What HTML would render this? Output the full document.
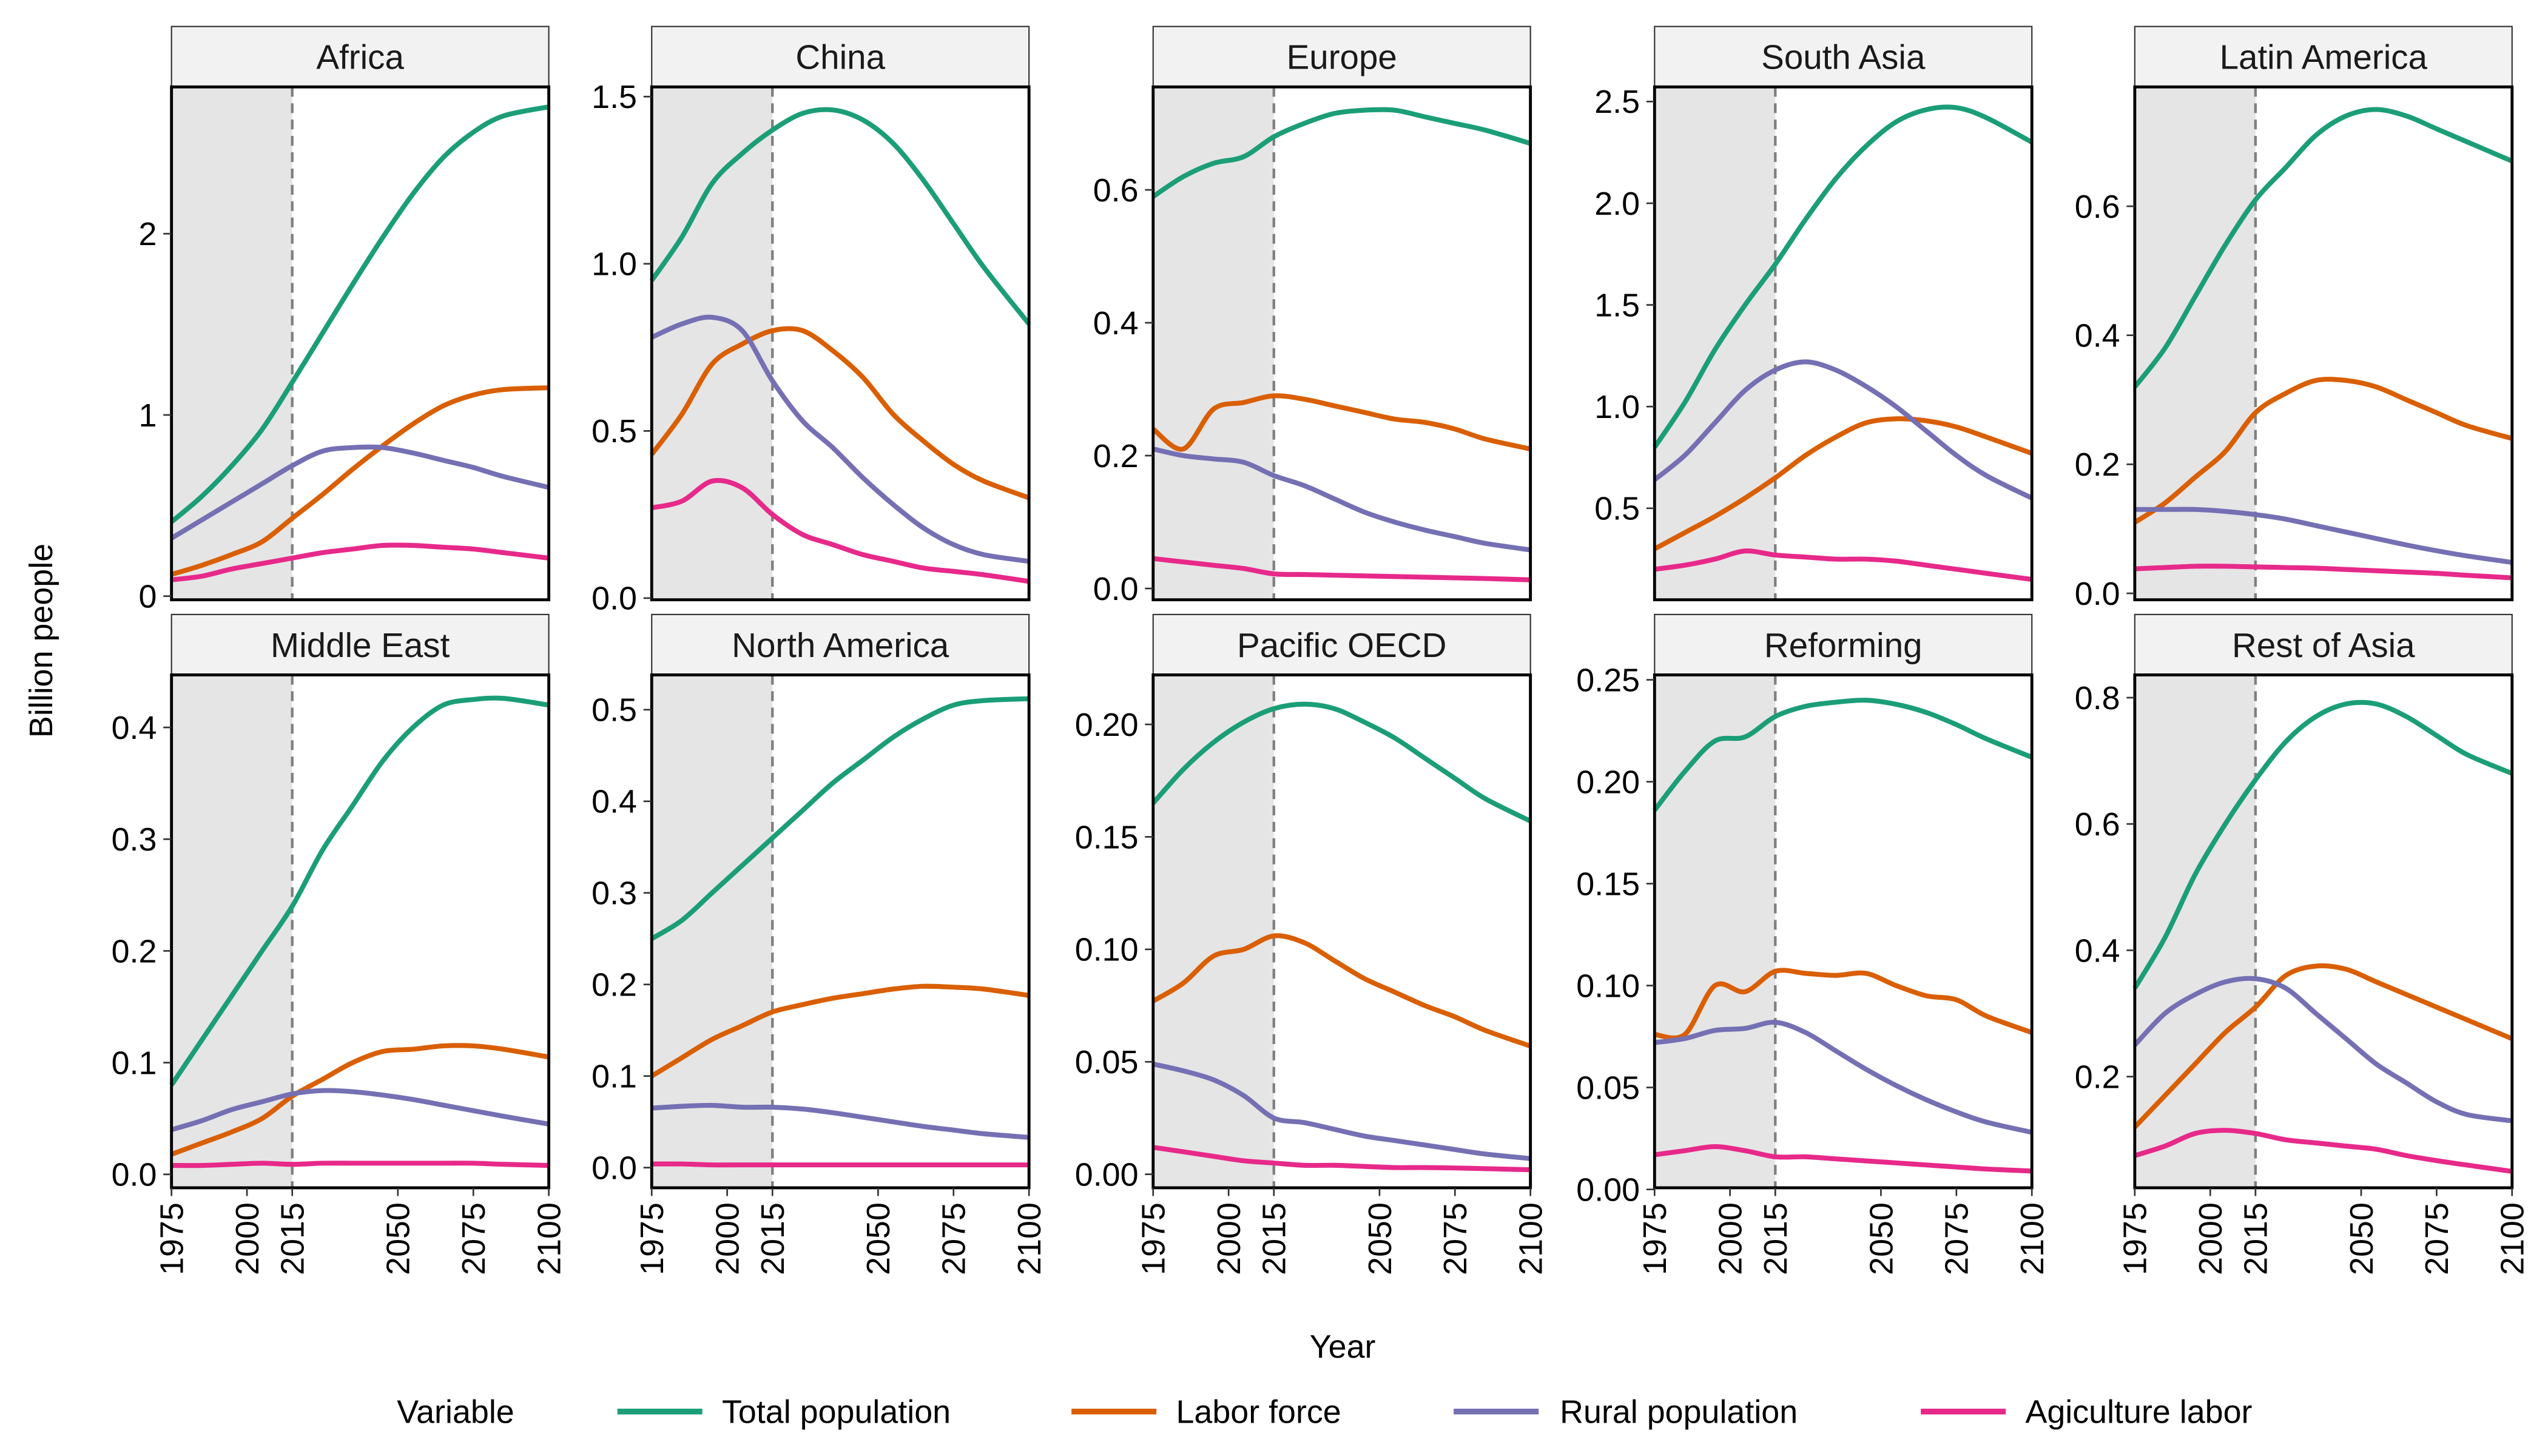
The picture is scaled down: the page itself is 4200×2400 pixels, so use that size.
<!DOCTYPE html>
<html><head><meta charset="utf-8"><style>
html,body{margin:0;padding:0;background:#fff;}
svg{display:block;font-family:"Liberation Sans",Arial,sans-serif;}
</style></head><body>
<svg id="chart" width="4200" height="2400" viewBox="0 0 1560 891" xmlns="http://www.w3.org/2000/svg">
<rect width="1560" height="891" fill="#fff"/>
<g id="panels"></g>
<text x="0" y="0" transform="translate(32,392) rotate(-90)" text-anchor="middle" font-size="20" fill="#000">Billion people</text>
<text x="822" y="831" text-anchor="middle" font-size="20" fill="#000">Year</text>
<g font-size="20" fill="#000">
<text x="243" y="871">Variable</text>
<g><line x1="378" y1="864" x2="430" y2="864" stroke="#1b9e77" stroke-width="3.5"/><text x="442" y="871">Total population</text></g>
<g><line x1="656" y1="864" x2="708" y2="864" stroke="#d95f02" stroke-width="3.5"/><text x="720" y="871">Labor force</text></g>
<g><line x1="890" y1="864" x2="942" y2="864" stroke="#7570b3" stroke-width="3.5"/><text x="955" y="871">Rural population</text></g>
<g><line x1="1176" y1="864" x2="1228" y2="864" stroke="#e7298a" stroke-width="3.5"/><text x="1240" y="871">Agiculture labor</text></g>
</g>
</svg>
<script>
const years = [1975,1985,1995,2005,2015,2025,2035,2045,2055,2065,2075,2085,2100];
const xTicks = [1975,2000,2015,2050,2075,2100];
const seriesNames = ["Total population","Labor force","Rural population","Agiculture labor"];
const seriesColors = ["#1b9e77","#d95f02","#7570b3","#e7298a"];
const regions = ["Africa","China","Europe","South Asia","Latin America","Middle East","North America","Pacific OECD","Reforming","Rest of Asia"];
const yDomains = [[-0.02,2.81],[-0.005,1.529],[-0.017,0.755],[0.05,2.572],[-0.01,0.785],[-0.012,0.447],[-0.022,0.538],[-0.006,0.222],[0.0008,0.2524],[0.024,0.836]];
const yTicks = [[0,1,2],[0,0.5,1,1.5],[0,0.2,0.4,0.6],[0.5,1,1.5,2,2.5],[0,0.2,0.4,0.6],[0,0.1,0.2,0.3,0.4],[0,0.1,0.2,0.3,0.4,0.5],[0,0.05,0.1,0.15,0.2],[0,0.05,0.1,0.15,0.2,0.25],[0.2,0.4,0.6,0.8]];
const yTickLabels = [["0","1","2"],["0.0","0.5","1.0","1.5"],["0.0","0.2","0.4","0.6"],["0.5","1.0","1.5","2.0","2.5"],["0.0","0.2","0.4","0.6"],["0.0","0.1","0.2","0.3","0.4"],["0.0","0.1","0.2","0.3","0.4","0.5"],["0.00","0.05","0.10","0.15","0.20"],["0.00","0.05","0.10","0.15","0.20","0.25"],["0.2","0.4","0.6","0.8"]];

const africaTotal=[0.41,0.55,0.72,0.92,1.18,1.45,1.72,1.98,2.22,2.42,2.56,2.65,2.70];
const africaLabor=[0.12,0.17,0.23,0.30,0.43,0.56,0.70,0.83,0.95,1.05,1.11,1.14,1.15];
const africaRural=[0.32,0.42,0.52,0.62,0.72,0.80,0.82,0.82,0.79,0.75,0.71,0.66,0.60];
const africaAg=[0.09,0.11,0.15,0.18,0.21,0.24,0.26,0.28,0.28,0.27,0.26,0.24,0.21];
const chinaTotal=[0.95,1.08,1.24,1.33,1.40,1.45,1.46,1.43,1.36,1.25,1.12,0.99,0.82];
const chinaLabor=[0.43,0.55,0.70,0.76,0.80,0.80,0.74,0.66,0.55,0.47,0.40,0.35,0.30];
const chinaRural=[0.78,0.82,0.84,0.80,0.65,0.53,0.45,0.36,0.28,0.21,0.16,0.13,0.11];
const chinaAg=[0.27,0.29,0.35,0.33,0.25,0.19,0.16,0.13,0.11,0.09,0.08,0.07,0.05];
const europeTotal=[0.59,0.62,0.64,0.65,0.68,0.70,0.715,0.72,0.72,0.71,0.70,0.69,0.67];
const europeLabor=[0.24,0.21,0.27,0.28,0.29,0.285,0.275,0.265,0.255,0.25,0.24,0.225,0.21];
const europeRural=[0.21,0.20,0.195,0.19,0.17,0.155,0.135,0.115,0.10,0.088,0.078,0.068,0.058];
const europeAg=[0.045,0.04,0.035,0.03,0.022,0.021,0.02,0.019,0.018,0.017,0.016,0.015,0.013];
const southAsiaTotal=[0.80,1.02,1.28,1.50,1.70,1.92,2.12,2.28,2.40,2.46,2.47,2.42,2.30];
const southAsiaLabor=[0.30,0.38,0.46,0.55,0.65,0.76,0.85,0.92,0.94,0.93,0.90,0.85,0.77];
const southAsiaRural=[0.64,0.76,0.92,1.08,1.18,1.22,1.18,1.10,1.00,0.88,0.76,0.66,0.55];
const southAsiaAg=[0.20,0.22,0.25,0.29,0.27,0.26,0.25,0.25,0.24,0.22,0.20,0.18,0.15];
const latamTotal=[0.32,0.38,0.46,0.54,0.61,0.66,0.71,0.74,0.75,0.74,0.72,0.70,0.67];
const latamLabor=[0.11,0.14,0.18,0.22,0.28,0.31,0.33,0.33,0.32,0.30,0.28,0.26,0.24];
const latamRural=[0.13,0.13,0.13,0.127,0.122,0.115,0.105,0.095,0.085,0.075,0.066,0.058,0.048];
const latamAg=[0.038,0.04,0.042,0.042,0.041,0.04,0.039,0.037,0.035,0.033,0.031,0.028,0.024];
const meTotal=[0.08,0.12,0.16,0.20,0.24,0.29,0.33,0.37,0.40,0.42,0.425,0.426,0.42];
const meLabor=[0.018,0.028,0.038,0.050,0.070,0.085,0.10,0.11,0.112,0.115,0.115,0.112,0.105];
const meRural=[0.04,0.048,0.058,0.065,0.072,0.075,0.074,0.071,0.067,0.062,0.057,0.052,0.045];
const meAg=[0.008,0.008,0.009,0.010,0.009,0.010,0.010,0.010,0.010,0.010,0.010,0.009,0.008];
const naTotal=[0.25,0.27,0.30,0.33,0.36,0.39,0.42,0.445,0.47,0.49,0.505,0.51,0.512];
const naLabor=[0.10,0.12,0.14,0.155,0.17,0.178,0.185,0.19,0.195,0.198,0.197,0.195,0.188];
const naRural=[0.065,0.067,0.068,0.066,0.066,0.064,0.06,0.055,0.05,0.045,0.041,0.037,0.033];
const naAg=[0.004,0.004,0.003,0.003,0.003,0.003,0.003,0.003,0.003,0.003,0.003,0.003,0.003];
const poTotal=[0.165,0.18,0.192,0.201,0.207,0.209,0.207,0.201,0.194,0.185,0.176,0.167,0.157];
const poLabor=[0.077,0.085,0.097,0.100,0.106,0.103,0.095,0.087,0.081,0.075,0.070,0.064,0.057];
const poRural=[0.049,0.046,0.042,0.035,0.025,0.023,0.020,0.017,0.015,0.013,0.011,0.009,0.007];
const poAg=[0.012,0.010,0.008,0.006,0.005,0.004,0.004,0.0035,0.003,0.003,0.0028,0.0025,0.002];
const refTotal=[0.186,0.205,0.22,0.222,0.232,0.237,0.239,0.24,0.238,0.234,0.228,0.221,0.212];
const refLabor=[0.076,0.076,0.10,0.097,0.107,0.106,0.105,0.106,0.10,0.095,0.093,0.085,0.077];
const refRural=[0.072,0.074,0.078,0.079,0.082,0.077,0.068,0.059,0.051,0.044,0.038,0.033,0.028];
const refAg=[0.017,0.019,0.021,0.019,0.016,0.016,0.015,0.014,0.013,0.012,0.011,0.010,0.009];
const roaTotal=[0.34,0.42,0.52,0.60,0.67,0.73,0.77,0.79,0.79,0.77,0.74,0.71,0.68];
const roaLabor=[0.12,0.17,0.22,0.27,0.31,0.36,0.375,0.37,0.35,0.33,0.31,0.29,0.26];
const roaRural=[0.25,0.30,0.33,0.35,0.355,0.34,0.30,0.26,0.22,0.19,0.16,0.14,0.13];
const roaAg=[0.075,0.09,0.11,0.115,0.11,0.10,0.095,0.09,0.085,0.075,0.067,0.06,0.05];

const regionSeries=[
 [africaTotal,africaLabor,africaRural,africaAg],
 [chinaTotal,chinaLabor,chinaRural,chinaAg],
 [europeTotal,europeLabor,europeRural,europeAg],
 [southAsiaTotal,southAsiaLabor,southAsiaRural,southAsiaAg],
 [latamTotal,latamLabor,latamRural,latamAg],
 [meTotal,meLabor,meRural,meAg],
 [naTotal,naLabor,naRural,naAg],
 [poTotal,poLabor,poRural,poAg],
 [refTotal,refLabor,refRural,refAg],
 [roaTotal,roaLabor,roaRural,roaAg]
];

const NS="http://www.w3.org/2000/svg";
const colLeft=[105,399,706,1013,1307];
const W=231;
const rowStripTop=[16,376], STRIP=37, PH=314;
const root=document.getElementById('panels');
function mk(tag,attrs,parent){const e=document.createElementNS(NS,tag);for(const k in attrs)e.setAttribute(k,attrs[k]);parent.appendChild(e);return e;}
const slug=s=>s.toLowerCase().replace(/\s+/g,'-');
function smoothPath(p){
  let d='M'+p[0][0].toFixed(2)+','+p[0][1].toFixed(2);
  for(let i=0;i<p.length-1;i++){
    const p0=p[i-1]||p[i],p1=p[i],p2=p[i+1],p3=p[i+2]||p2;
    const t=0.16;
    const c1=[p1[0]+(p2[0]-p0[0])*t,p1[1]+(p2[1]-p0[1])*t];
    const c2=[p2[0]-(p3[0]-p1[0])*t,p2[1]-(p3[1]-p1[1])*t];
    d+=' C'+c1.map(v=>v.toFixed(2)).join(',')+' '+c2.map(v=>v.toFixed(2)).join(',')+' '+p2[0].toFixed(2)+','+p2[1].toFixed(2);
  }
  return d;
}

regions.forEach((name,i)=>{
  const r=Math.floor(i/5), c=i%5;
  const L=colLeft[c], sT=rowStripTop[r], T=sT+STRIP, B=T+PH, R=L+W;
  const [y0,y1]=yDomains[i];
  const xs=v=>L+(v-1975)/(2100-1975)*W;
  const ys=v=>B-(v-y0)/(y1-y0)*PH;
  const g=mk('g',{},root);
  
  
  const strip=mk('rect',{x:L,y:sT,width:W,height:STRIP,fill:'#f2f2f2',stroke:'#333','stroke-width':0.8},g);
  
  
  const st=mk('text',{x:L+W/2,y:sT+26,'text-anchor':'middle','font-size':21,fill:'#1a1a1a'},g);
  st.textContent=name;
  
  
  const shade=mk('rect',{x:L,y:T,width:xs(2015)-L,height:PH,fill:'#e5e5e5'},g);
  
  
  const dl=mk('line',{x1:xs(2015),x2:xs(2015),y1:T,y2:B,stroke:'#7f7f7f','stroke-width':1.6,'stroke-dasharray':'6 4'},g);
  
  
  regionSeries[i].forEach((vals,s)=>{
    const pts=vals.map((v,k)=>[xs(years[k]),ys(v)]);
    const pl=mk('path',{d:smoothPath(pts),fill:'none',stroke:seriesColors[s],'stroke-width':3,'stroke-linejoin':'round'},g);
    
    
  });
  const frame=mk('rect',{x:L,y:T,width:W,height:PH,fill:'none',stroke:'#000','stroke-width':1.8},g);
  
  
  yTicks[i].forEach((v,k)=>{
    const y=ys(v);
    mk('line',{x1:L-5,x2:L,y1:y,y2:y,stroke:'#333','stroke-width':1},g);
    const t=mk('text',{x:L-9,y:y+7,'text-anchor':'end','font-size':20,fill:'#000'},g);
    t.textContent=yTickLabels[i][k];
    
    
  });
  if(r===1){
    xTicks.forEach(v=>{
      const x=xs(v);
      mk('line',{x1:x,x2:x,y1:B,y2:B+5,stroke:'#333','stroke-width':1},g);
      const t=mk('text',{x:0,y:0,transform:`translate(${x+7},${B+9}) rotate(-90)`,'text-anchor':'end','font-size':20,fill:'#000'},g);
      t.textContent=String(v);
      
      
    });
  }
});
</script>
</body></html>
